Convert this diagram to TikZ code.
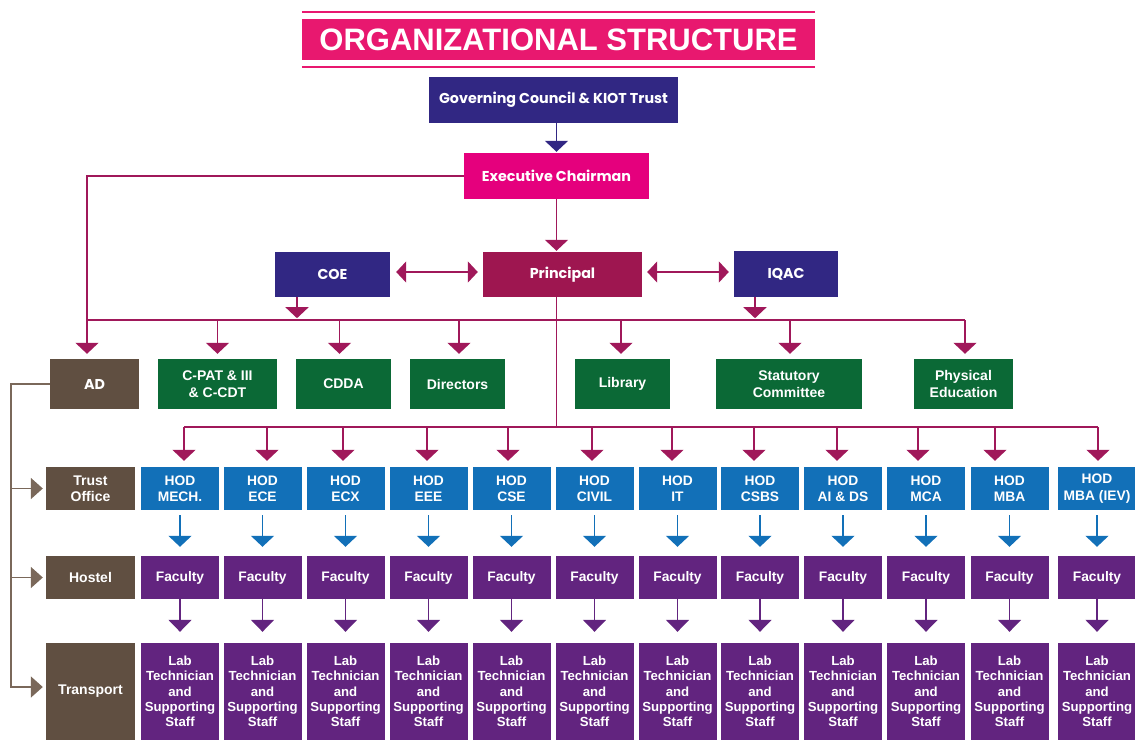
\documentclass[tikz,border=0pt]{standalone}
\usepackage{fontspec}
\setmainfont{Liberation Sans}
\newfontfamily\popp{Poppins}
\usetikzlibrary{arrows.meta,calc}
\definecolor{tpink}{HTML}{E8186F}
\definecolor{mag}{HTML}{E5007D}
\definecolor{indigo}{HTML}{312783}
\definecolor{princ}{HTML}{9E1650}
\definecolor{crim}{HTML}{A0185A}
\definecolor{grn}{HTML}{0B6936}
\definecolor{brn}{HTML}{604F41}
\definecolor{brnl}{HTML}{7A685A}
\definecolor{hblue}{HTML}{1270B8}
\definecolor{purp}{HTML}{62247F}
\begin{document}
\begin{tikzpicture}[x=1pt,y=-1pt,
  box/.style={rectangle, inner sep=0pt, text=white, align=center},
  topbox/.style={box, font=\popp\bfseries\fontsize{14.3}{16}\selectfont},
  gbox/.style={box, fill=grn, minimum height=50pt, font=\bfseries\fontsize{14}{16.5}\selectfont},
  lbox/.style={box, fill=brn, minimum width=89pt, font=\bfseries\fontsize{14}{16.5}\selectfont},
  hodbox/.style={box, fill=hblue, minimum width=78pt, minimum height=43pt, font=\bfseries\fontsize{13.8}{16.5}\selectfont},
  facbox/.style={box, fill=purp, minimum width=78pt, minimum height=43pt, font=\bfseries\fontsize{13.8}{16}\selectfont},
  labbox/.style={box, fill=purp, minimum width=78pt, minimum height=97pt, font=\bfseries\fontsize{13.2}{15.3}\selectfont},
  cline/.style={draw=crim, line width=1.6pt},
  carr/.style={cline, -{Triangle[width=23pt,length=11pt]}},
  cdbl/.style={cline, {Triangle[width=21pt,length=10pt]}-{Triangle[width=21pt,length=10pt]}},
  iarr/.style={draw=indigo, line width=1.6pt, -{Triangle[width=23pt,length=11pt]}},
  blarr/.style={draw=hblue, line width=1.6pt, -{Triangle[width=23pt,length=11pt]}},
  parr/.style={draw=purp, line width=1.6pt, -{Triangle[width=23pt,length=12pt]}},
  bline/.style={draw=brnl, line width=1.6pt},
  brarr/.style={bline, -{Triangle[width=21pt,length=12pt]}}
]
\useasboundingbox (0,0) rectangle (1135,740);
% title
\node[box, fill=tpink, minimum width=513pt, minimum height=41pt,
      font=\bfseries\fontsize{31}{31}\selectfont] (title) at (558.5,39.5) {ORGANIZATIONAL STRUCTURE};
\draw[tpink, line width=2.5pt] ($(title.north west)+(0,-7)$) -- ($(title.north east)+(0,-7)$);
\draw[tpink, line width=2.5pt] ($(title.south west)+(0,7)$) -- ($(title.south east)+(0,7)$);
% top boxes
\node[topbox, fill=indigo, minimum width=249pt, minimum height=46pt] (gov) at (553.5,100) {Governing Council \& KIOT Trust};
\node[topbox, fill=mag, minimum width=185pt, minimum height=46pt] (exec) at (556.5,176) {Executive Chairman};
\node[topbox, fill=indigo, minimum width=115pt, minimum height=45pt] (coe) at (332.5,274.5) {COE};
\node[topbox, fill=princ, minimum width=159pt, minimum height=45pt] (principal) at (562.5,274.5) {Principal};
\node[topbox, fill=indigo, minimum width=104pt, minimum height=46pt] (iqac) at (786,274) {IQAC};
% row 2
\node[lbox, minimum height=50pt, font=\popp\bfseries\fontsize{14.3}{16}\selectfont] (ad) at (94.5,384) {AD};
\node[gbox, minimum width=119pt] (cpat) at (217.5,384) {C-PAT \& III\\\& C-CDT};
\node[gbox, minimum width=95pt] (cdda) at (343.5,384) {CDDA};
\node[gbox, minimum width=95pt] (dirs) at (457.5,384) {Directors};
\node[gbox, minimum width=95pt] (lib) at (622.5,384) {Library};
\node[gbox, minimum width=146pt] (stat) at (789,384) {Statutory\\Committee};
\node[gbox, minimum width=99pt] (phys) at (963.5,384) {Physical\\Education};
% left column
\node[lbox, minimum height=43pt] (trust) at (90.5,488.5) {Trust\\Office};
\node[lbox, minimum height=43pt] (hostel) at (90.5,577.5) {Hostel};
\node[lbox, minimum height=97pt] (transport) at (90.5,691.5) {Transport};
% connectors top
\draw[iarr] (exec.north |- gov.south) -- ($(exec.north)+(0,-1)$);
\draw[carr] (exec.south) -- ($(exec.south |- principal.north)+(0,-1)$);
\draw[cdbl] ($(coe.east)+(6,-2.5)$) -- ($(principal.west)+(-5,-2.5)$);
\draw[cdbl] ($(principal.east)+(5,-2.5)$) -- ($(iqac.west)+(-5,-2)$);
\coordinate (b1L) at (87,320);
\coordinate (b1R) at (965,320);
\draw[cline] (b1L) -- (b1R);
\draw[carr] (exec.west) -| ($(ad.north)+(-7.5,-5)$);
\draw[carr] ($(coe.south)+(-35.5,0)$) -- ($(coe.south)+(-35.5,21)$);
\draw[carr] ($(iqac.south)+(-31,0)$) -- ($(iqac.south)+(-31,21)$);
\draw[carr] (b1L -| cpat.north) -- ($(cpat.north)+(0,-5)$);
\draw[carr] ($(b1L -| cdda.north)+(-4,0)$) -- ($(cdda.north)+(-4,-5)$);
\draw[carr] ($(b1L -| dirs.north)+(1.5,0)$) -- ($(dirs.north)+(1.5,-5)$);
\draw[carr] ($(b1L -| lib.north)+(-1.5,0)$) -- ($(lib.north)+(-1.5,-5)$);
\draw[carr] ($(b1L -| stat.north)+(1,0)$) -- ($(stat.north)+(1,-5)$);
\draw[carr] ($(b1L -| phys.north)+(1.5,0)$) -- ($(phys.north)+(1.5,-5)$);
% principal down to bus 2
\coordinate (b2L) at (184,427);
\coordinate (b2R) at (1098,427);
\draw[cline] (exec.south |- principal.south) -- (exec.south |- b2L);
\draw[cline] (b2L) -- (b2R);
% departments
\foreach \n/\cx/\hod/\dx in {
  mech/180/{HOD\\MECH.}/4,
  ece/262.5/{HOD\\ECE}/4.5,
  ecx/345.5/{HOD\\ECX}/-2.5,
  eee/428.5/{HOD\\EEE}/-1.5,
  cse/511.5/{HOD\\CSE}/-3.5,
  civil/594.5/{HOD\\CIVIL}/-2.5,
  it/677.5/{HOD\\IT}/-5.5,
  csbs/760/{HOD\\CSBS}/-6,
  aids/843/{HOD\\AI \& DS}/-6,
  mca/926/{HOD\\MCA}/-8,
  mba/1009.5/{HOD\\MBA}/-14.5,
  iev/1097/{HOD\\MBA (IEV)}/1}{
  \node[hodbox] (h\n) at (\cx,488.5) {\hod};
  \node[facbox] (f\n) at (\cx,577.5) {Faculty};
  \node[labbox] (l\n) at (\cx,691.5) {Lab\\Technician\\and\\Supporting\\Staff};
  \draw[carr] ($(b2L -| h\n.north)+(\dx,0)$) -- ($(h\n.north)+(\dx,-6)$);
  \draw[blarr] ($(h\n.south)+(0,5)$) -- ($(f\n.north)+(0,-9)$);
  \draw[parr] (f\n.south) -- ($(l\n.north)+(0,-11)$);
}
% left brown connectors
\coordinate (lb) at (11,687);
\draw[brarr] (ad.west) -| (lb) -- ($(lb -| transport.west)+(-3,0)$);
\draw[brarr] (lb |- trust.west) -- ($(trust.west)+(-3,0)$);
\draw[brarr] (lb |- hostel.west) -- ($(hostel.west)+(-3,0)$);
\end{tikzpicture}
\end{document}
